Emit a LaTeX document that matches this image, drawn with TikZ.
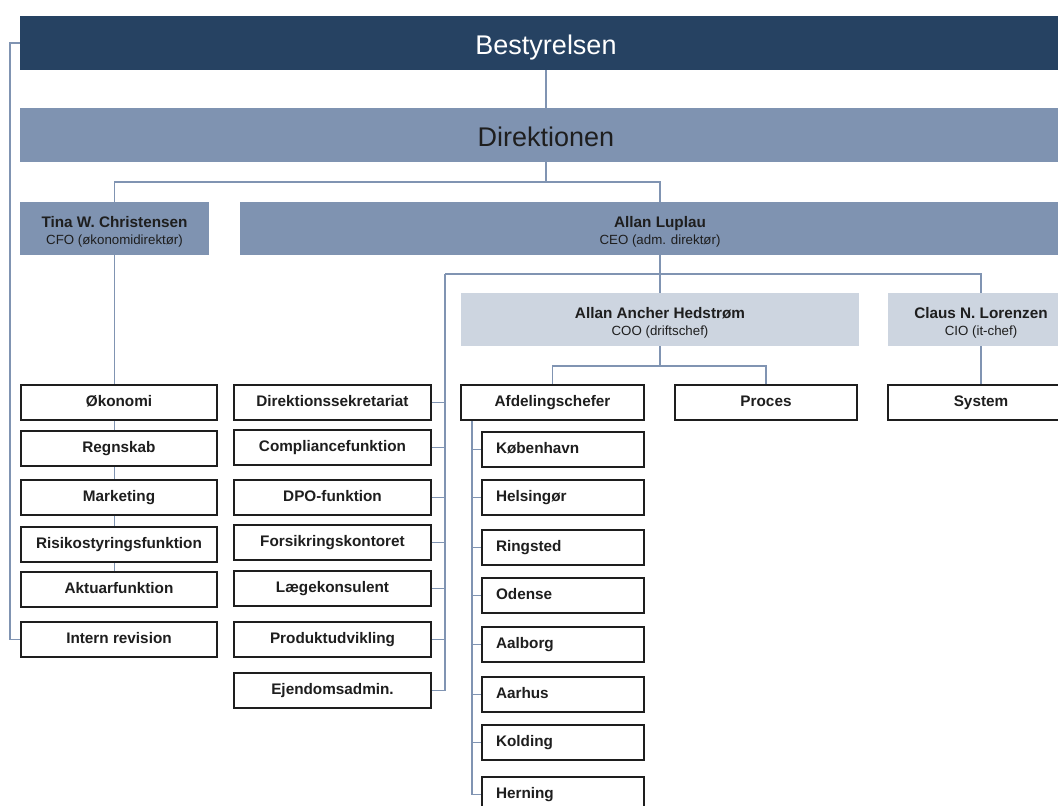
\documentclass[tikz,border=0pt]{standalone}
\usepackage{fontspec}
\setmainfont{Liberation Sans}
\usetikzlibrary{backgrounds}
\definecolor{navy}{HTML}{264262}
\definecolor{midblue}{HTML}{7F93B1}
\definecolor{lightblue}{HTML}{CDD5E0}
\definecolor{conncol}{HTML}{8094B2}
\definecolor{ink}{HTML}{1E1E1E}
\tikzset{
  bar/.style={anchor=north west, inner sep=0pt, outer sep=0pt, minimum height=54pt, text height=22.5pt, text depth=0pt, font=\fontsize{27}{30}\selectfont},
  head/.style={anchor=north west, inner sep=0pt, outer sep=0pt, minimum height=53pt},
  nametxt/.style={anchor=base, inner sep=0pt, text=ink, font=\bfseries\fontsize{15.3}{18}\selectfont},
  subtxt/.style={anchor=base, inner sep=0pt, text=ink, font=\fontsize{13.3}{16}\selectfont},
  cell/.style={anchor=north west, draw=ink, line width=1.2pt, fill=white, inner sep=0pt, outer sep=0pt, minimum height=35pt, text height=11.5pt, text depth=3pt, text=ink, font=\bfseries\fontsize{15.3}{18}\selectfont},
  lcell/.style={cell, minimum width=196pt},
  mcell/.style={cell, minimum width=197pt},
  rcell/.style={cell, minimum width=182pt},
  acell/.style={cell, inner xsep=14pt, text width=134pt, align=left, minimum width=162pt},
  conn/.style={draw=conncol, line width=1.2pt},
}
\begin{document}
\begin{tikzpicture}[x=1pt,y=-1pt]
\useasboundingbox (0,0) rectangle (1058,806);
% bars
\node[bar, fill=navy, text=white, minimum width=1052pt] (best) at (20,16) {Bestyrelsen};
\node[bar, fill=midblue, text=ink, minimum width=1052pt] (dir) at (20,108) {Direktionen};
% level heads
\node[head, fill=midblue, minimum width=189pt] (tina) at (20,202) {};
\node[nametxt] (tinaN) at ([yshift=-25pt]tina.north) {Tina W. Christensen};
\node[subtxt] (tinaS) at ([yshift=-42pt]tina.north) {CFO (økonomidirektør)};
\node[head, fill=midblue, minimum width=840pt] (allan) at (240,202) {};
\node[nametxt] (allanN) at ([yshift=-25pt]allan.north) {Allan Luplau};
\node[subtxt] (allanS) at ([yshift=-42pt]allan.north) {CEO (adm. direktør)};
\node[head, fill=lightblue, minimum width=398pt] (ancher) at (461,293) {};
\node[nametxt] (ancherN) at ([yshift=-25pt]ancher.north) {Allan Ancher Hedstrøm};
\node[subtxt] (ancherS) at ([yshift=-42pt]ancher.north) {COO (driftschef)};
\node[head, fill=lightblue, minimum width=186pt] (claus) at (888,293) {};
\node[nametxt] (clausN) at ([yshift=-25pt]claus.north) {Claus N. Lorenzen};
\node[subtxt] (clausS) at ([yshift=-42pt]claus.north) {CIO (it-chef)};
% left column
\node[lcell] (oko) at (21,385) {Økonomi};
\node[lcell] (regn) at (21,431) {Regnskab};
\node[lcell] (mark) at (21,480) {Marketing};
\node[lcell] (risk) at (21,527) {Risikostyringsfunktion};
\node[lcell] (akt) at (21,572) {Aktuarfunktion};
\node[lcell] (intern) at (21,622) {Intern revision};
% middle column
\node[mcell] (sekr) at (234,385) {Direktionssekretariat};
\node[mcell] (comp) at (234,430) {Compliancefunktion};
\node[mcell] (dpo) at (234,480) {DPO-funktion};
\node[mcell] (fors) at (234,525) {Forsikringskontoret};
\node[mcell] (laege) at (234,571) {Lægekonsulent};
\node[mcell] (prod) at (234,622) {Produktudvikling};
\node[mcell] (ejen) at (234,673) {Ejendomsadmin.};
% COO column
\node[rcell, minimum width=183pt] (afd) at (461,385) {Afdelingschefer};
\node[rcell] (proc) at (675,385) {Proces};
\node[rcell, minimum width=186pt] (sys) at (888,385) {System};
\node[acell] (kbh) at (482,432) {København};
\node[acell] (hels) at (482,480) {Helsingør};
\node[acell] (ring) at (482,530) {Ringsted};
\node[acell] (odense) at (482,578) {Odense};
\node[acell] (aalb) at (482,627) {Aalborg};
\node[acell] (aarh) at (482,677) {Aarhus};
\node[acell] (kold) at (482,725) {Kolding};
\node[acell] (hern) at (482,777) {Herning};
% bus coordinates
\coordinate (dbus) at (546,182);
\coordinate (cbus) at (660,274);
\coordinate (mbus) at (445,274);
\coordinate (obus) at (660,366);
\coordinate (abus) at (472,421);
\begin{scope}[on background layer]
\draw[conn] (best.south) -- (dir.north);
\draw[conn] (dir.south) -- (dbus);
\draw[conn] (tina.north) |- (dbus) -| (allan.north);
\draw[conn] (best.west) -- ++(-10,0) |- (intern.west);
\draw[conn] (tina.south) -- (tina.south |- akt.north);
\draw[conn] (allan.south) -- (cbus) -- (ancher.north);
\draw[conn] (mbus) -- (cbus) -| (claus.north);
\draw[conn] (mbus) |- (ejen.east);
\foreach \n in {sekr,comp,dpo,fors,laege,prod}{\draw[conn] (\n.east) -- (\n.east -| mbus);}
\draw[conn] (ancher.south) -- (obus);
\draw[conn] (afd.north) |- (obus) -| (proc.north);
\draw[conn] (claus.south) -- (sys.north);
\draw[conn] (abus) |- (hern.west);
\foreach \n in {kbh,hels,ring,odense,aalb,aarh,kold}{\draw[conn] (\n.west) -- (\n.west -| abus);}
\end{scope}
\end{tikzpicture}
\end{document}
